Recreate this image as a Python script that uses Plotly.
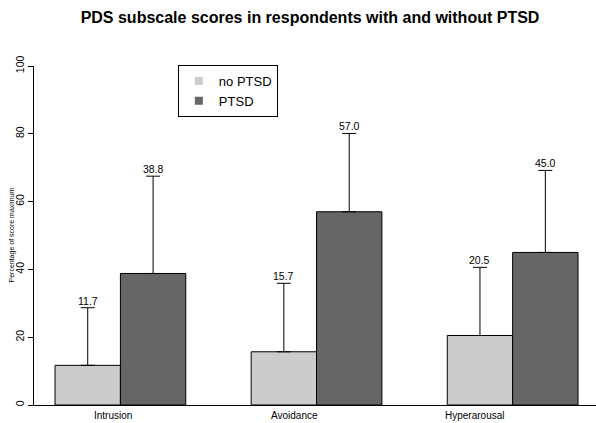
import plotly.graph_objects as go

# ---- data ----
categories = ["Intrusion", "Avoidance", "Hyperarousal"]
no_ptsd_mean = [11.7, 15.7, 20.5]
no_ptsd_sd = [17.0, 20.2, 20.1]
ptsd_mean = [38.8, 57.0, 45.0]
ptsd_sd = [28.7, 23.1, 24.2]
series_names = ["no PTSD", "PTSD"]
y_ticks = [0, 20, 40, 60, 80, 100]

# ---- style ----
FONT = "Liberation Sans, Arial, Helvetica, sans-serif"
col_light = "#CCCCCC"
col_dark = "#666666"
label_pos = [-0.036, 0.888, 1.804]   # positions of category labels (category units)
bargap = 1 / 3
bar_half = (1 - bargap) / 4            # half offset of each bar in a group

fig = go.Figure()
for name, mean, sd, col in [(series_names[0], no_ptsd_mean, no_ptsd_sd, col_light),
                             (series_names[1], ptsd_mean, ptsd_sd, col_dark)]:
    fig.add_trace(go.Bar(
        x=categories, y=mean, name=name, showlegend=False,
        marker=dict(color=col, line=dict(color="black", width=1)),
        error_y=dict(type="data", symmetric=False, array=sd,
                     arrayminus=[0] * len(sd), color="black",
                     thickness=1, width=7),
    ))
    # legend-only marker (square without outline)
    fig.add_trace(go.Scatter(
        x=[None], y=[None], mode="markers", name=name,
        marker=dict(symbol="square", size=8, color=col),
    ))

annotations = []
for j, (mean, sd) in enumerate([(no_ptsd_mean, no_ptsd_sd), (ptsd_mean, ptsd_sd)]):
    off = -bar_half if j == 0 else bar_half
    for i in range(len(categories)):
        annotations.append(dict(
            x=i + off, y=mean[i] + sd[i], xref="x", yref="y",
            text=f"{mean[i]:.1f}", showarrow=False, yanchor="bottom",
            yshift=-1, font=dict(size=10.5, color="black", family=FONT)))
for i, cat in enumerate(categories):
    annotations.append(dict(
        x=label_pos[i], y=0, xref="x", yref="paper", text=cat,
        showarrow=False, yanchor="top", yshift=-3,
        font=dict(size=10, color="black", family=FONT)))
annotations.append(dict(
    x=0, y=0.5, xref="paper", yref="paper", xanchor="center", xshift=-23,
    text="Percentage of score maximum", showarrow=False, textangle=-90,
    font=dict(size=7, color="black", family=FONT)))

fig.update_layout(
    width=596, height=423,
    margin=dict(l=34, r=0, t=66, b=18),
    paper_bgcolor="white", plot_bgcolor="white",
    barmode="group", bargap=bargap, bargroupgap=0,
    font=dict(family=FONT, color="black"),
    title=dict(text="<b>PDS subscale scores in respondents with and without PTSD</b>",
               x=310 / 596, xanchor="center", y=1 - 17.5 / 423, yanchor="middle",
               font=dict(size=16, family=FONT, color="black")),
    xaxis=dict(range=[-0.4406, 2.425], showticklabels=False, ticks="",
               showgrid=False, zeroline=False, showline=True,
               linecolor="black", linewidth=1),
    yaxis=dict(range=[0, 100], tickvals=y_ticks, tickangle=-90,
               ticks="outside", ticklen=5, tickcolor="black", tickwidth=1,
               showgrid=False, zeroline=False, showline=True,
               linecolor="black", linewidth=1,
               tickfont=dict(size=10.5, family=FONT, color="black")),
    legend=dict(x=0.256, y=1.003, xanchor="left", yanchor="top",
                bordercolor="black", borderwidth=1, bgcolor="white",
                font=dict(size=13, family=FONT, color="black"),
                itemwidth=30, tracegroupgap=0),
    annotations=annotations,
)

fig.write_html("out.html", config={"displayModeBar": False},
               post_script="document.body.style.margin='0';"
                           "document.body.style.overflow='hidden';")
